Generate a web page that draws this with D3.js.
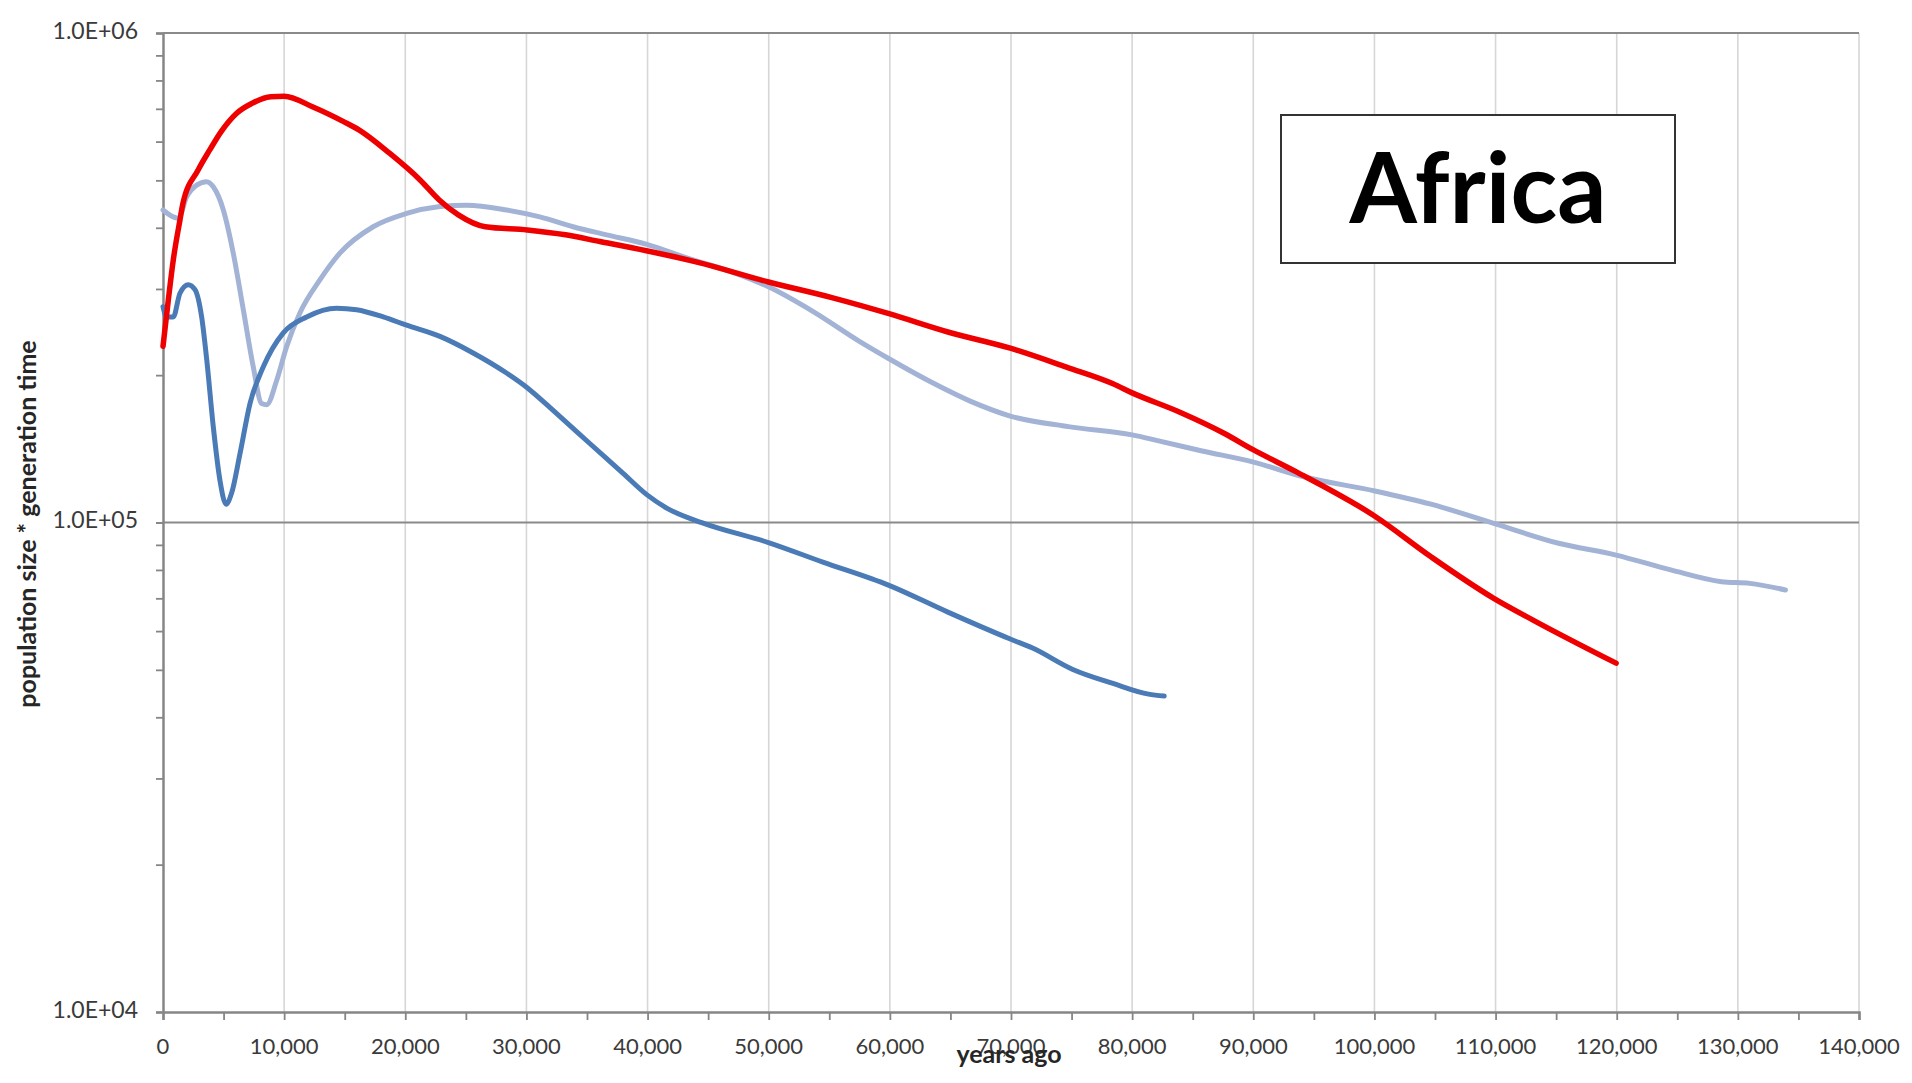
<!DOCTYPE html>
<html>
<head>
<meta charset="utf-8">
<script src="https://cdn.jsdelivr.net/npm/d3@7"></script>
<style>
  html, body { margin: 0; padding: 0; background: #ffffff; }
  svg { display: block; }
</style>
</head>
<body>
<svg id="chart" width="1912" height="1083"></svg>
<script>
// Effective population size history (population size * generation time), years ago
const redYears = [0, 440, 850, 1400, 1650, 2900, 3860, 4800, 6060, 7330, 8910, 10000, 12380, 14910, 16170, 18700, 21220, 22800, 24380, 26590, 30070, 33230, 36060, 39900, 44160, 49980, 55210, 59930, 64790, 69940, 74740, 78420, 80000, 83940, 87620, 89940, 93520, 100040, 104670, 109850, 113090, 119950];
const redValues = [229000, 285000, 344000, 415000, 449000, 525000, 577000, 629000, 685000, 718000, 741000, 743000, 706000, 659000, 634000, 568000, 501000, 456000, 425000, 402000, 396000, 387000, 375000, 359000, 340000, 310000, 288000, 267000, 245000, 227000, 207000, 192000, 184000, 168000, 152000, 141000, 127000, 103000, 85100, 70000, 63200, 51600];

const lightBlueYears = [0, 850, 1260, 1960, 2780, 3600, 4150, 4980, 5800, 6630, 7450, 8140, 8560, 9380, 10210, 11300, 12950, 14600, 17350, 20110, 22860, 25060, 28360, 31110, 33850, 36610, 39930, 43420, 47100, 49980, 53740, 57420, 59930, 63680, 66630, 69940, 74740, 80000, 82100, 85780, 89940, 94140, 100040, 104670, 109850, 115200, 119950, 124460, 128660, 130980, 133930];
const lightBlueValues = [435000, 421000, 418000, 463000, 489000, 497000, 485000, 435000, 355000, 272000, 208000, 175000, 174000, 195000, 229000, 268000, 313000, 355000, 402000, 428000, 442000, 445000, 435000, 421000, 402000, 387000, 370000, 346000, 324000, 303000, 269000, 235000, 216000, 192000, 177000, 165000, 157000, 151000, 147000, 140000, 133000, 124000, 116000, 109000, 99600, 90700, 85800, 80000, 75700, 75100, 72800];

const blueYears = [0, 300, 850, 1400, 2090, 2640, 3190, 3610, 4150, 4700, 5200, 5670, 6350, 7180, 8280, 9930, 11860, 14330, 15980, 18180, 20110, 22860, 25600, 28360, 30010, 32480, 35230, 37980, 39930, 41580, 44530, 49980, 54470, 59930, 64790, 69940, 71780, 75100, 78420, 81360, 82650];
const blueValues = [276000, 263000, 263000, 294000, 306000, 299000, 263000, 215000, 157000, 122000, 109000, 115000, 138000, 175000, 208000, 244000, 263000, 274000, 272000, 263000, 253000, 240000, 222000, 202000, 189000, 167000, 145000, 126000, 114000, 107000, 99800, 91000, 83000, 74400, 65600, 57800, 55400, 50100, 46900, 44600, 44200];

const xTickValues = [0, 10000, 20000, 30000, 40000, 50000, 60000, 70000, 80000, 90000, 100000, 110000, 120000, 130000, 140000];
const yTickValues = [1e4, 1e5, 1e6];
const yTickLabels = ["1.0E+04", "1.0E+05", "1.0E+06"];
const xTitle = "years ago";
const yTitle = "population size * generation time";
const regionLabel = "Africa";

const svg = d3.select("#chart");
const plot = { left: 163, right: 1859, top: 33, bottom: 1012 };

const x = d3.scaleLinear().domain([0, 140000]).range([plot.left, plot.right]);
const y = d3.scaleLog().domain([1e4, 1e6]).range([plot.bottom, plot.top]);

const labelFont = "Lato, 'Open Sans', sans-serif";

// vertical gridlines
svg.append("g")
  .selectAll("line")
  .data(xTickValues.slice(1))
  .join("line")
  .attr("x1", d => x(d)).attr("x2", d => x(d))
  .attr("y1", plot.top).attr("y2", plot.bottom)
  .attr("stroke", "#d6d6d6").attr("stroke-width", 1.6);

// horizontal major gridlines
svg.append("g")
  .selectAll("line")
  .data(yTickValues.slice(1))
  .join("line")
  .attr("x1", plot.left).attr("x2", plot.right)
  .attr("y1", d => y(d)).attr("y2", d => y(d))
  .attr("stroke", "#8a8a8a").attr("stroke-width", 2);

// x axis with major and minor ticks
const xMinor = d3.range(0, 140001, 5000);
const xAxis = svg.append("g").attr("transform", `translate(0,${plot.bottom})`);
xAxis.call(d3.axisBottom(x).tickValues(xMinor).tickSize(8).tickFormat(""));
xAxis.select(".domain").attr("stroke", "#868686").attr("stroke-width", 2.5);
xAxis.selectAll(".tick line").attr("stroke", "#868686").attr("stroke-width", 1.8);

xAxis.selectAll(".xlabel")
  .data(xTickValues)
  .join("text")
  .attr("class", "xlabel")
  .attr("x", d => x(d))
  .attr("y", 36)
  .attr("text-anchor", "middle")
  .attr("dominant-baseline", "middle")
  .attr("font-family", labelFont)
  .attr("font-size", 22)
  .attr("fill", "#3a3a3a")
  .text(d => d3.format(",")(d));

// y axis with log minor ticks
const yMinor = [];
[1e4, 1e5].forEach(base => { for (let k = 1; k <= 10; k++) yMinor.push(base * k); });
const yAxis = svg.append("g").attr("transform", `translate(${plot.left},0)`);
yAxis.call(d3.axisLeft(y).tickValues(yMinor).tickSize(7).tickFormat(""));
yAxis.select(".domain").attr("stroke", "#868686").attr("stroke-width", 2.5);
yAxis.selectAll(".tick line").attr("stroke", "#868686").attr("stroke-width", 1.8);

yAxis.selectAll(".ylabel")
  .data(yTickValues)
  .join("text")
  .attr("class", "ylabel")
  .attr("x", -25)
  .attr("y", d => y(d))
  .attr("text-anchor", "end")
  .attr("dominant-baseline", "middle")
  .attr("font-family", labelFont)
  .attr("font-size", 23)
  .attr("fill", "#3a3a3a")
  .text((d, i) => yTickLabels[i]);

// top border of the plot area
svg.append("line")
  .attr("x1", plot.left).attr("x2", plot.right)
  .attr("y1", y(1e6)).attr("y2", y(1e6))
  .attr("stroke", "#8a8a8a").attr("stroke-width", 2);

// series lines
const line = d3.line()
  .x(d => x(d[0]))
  .y(d => y(d[1]))
  .curve(d3.curveMonotoneX);

const series = [
  { years: lightBlueYears, values: lightBlueValues, color: "#a3b3d6", width: 5 },
  { years: blueYears, values: blueValues, color: "#4a7bb7", width: 5 },
  { years: redYears, values: redValues, color: "#ee0000", width: 5.5 }
];

svg.append("g")
  .selectAll("path")
  .data(series)
  .join("path")
  .attr("d", s => line(s.years.map((yr, i) => [yr, s.values[i]])))
  .attr("fill", "none")
  .attr("stroke", s => s.color)
  .attr("stroke-width", s => s.width)
  .attr("stroke-linejoin", "round")
  .attr("stroke-linecap", "round");

// axis titles
svg.append("text")
  .attr("x", 1009)
  .attr("y", 1057)
  .attr("text-anchor", "middle")
  .attr("dominant-baseline", "middle")
  .attr("font-family", labelFont)
  .attr("font-weight", "bold")
  .attr("font-size", 25)
  .attr("fill", "#262626")
  .text(xTitle);

svg.append("text")
  .attr("transform", "translate(30,524) rotate(-90)")
  .attr("text-anchor", "middle")
  .attr("dominant-baseline", "middle")
  .attr("font-family", labelFont)
  .attr("font-weight", "bold")
  .attr("font-size", 25)
  .attr("fill", "#262626")
  .text(yTitle);

// region label box
const box = { x0: 1281, y0: 115, x1: 1675, y1: 263 };
svg.append("rect")
  .attr("x", box.x0).attr("y", box.y0)
  .attr("width", box.x1 - box.x0).attr("height", box.y1 - box.y0)
  .attr("fill", "#ffffff")
  .attr("stroke", "#333333").attr("stroke-width", 2);

svg.append("text")
  .attr("x", (box.x0 + box.x1) / 2)
  .attr("y", 223)
  .attr("text-anchor", "middle")
  .attr("font-family", labelFont)
  .attr("font-weight", "bold")
  .attr("font-size", 97)
  .attr("fill", "#000000")
  .text(regionLabel);
</script>
</body>
</html>
